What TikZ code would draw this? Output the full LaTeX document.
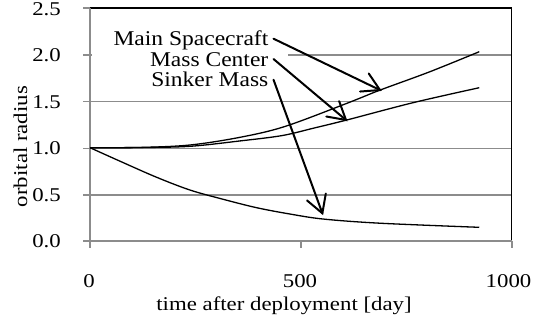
\documentclass[tikz,border=0pt]{standalone}
\usepackage{fontspec}
\setmainfont{Liberation Serif}[FakeStretch=1.17]
\newfontfamily\labfont{Liberation Serif}[FakeStretch=1.12]
\usetikzlibrary{calc}
\definecolor{gridgray}{gray}{0.55}
\begin{document}
\begin{tikzpicture}[x=1pt,y=-1pt,
  gridline/.style={draw=gridgray, line width=1.5pt},
  axisline/.style={draw=gridgray, line width=2pt},
  frameline/.style={draw=black, line width=1.5pt},
  curve/.style={black, line width=1.3pt},
  pointer/.style={black, line width=2pt, line cap=round, line join=miter},
  ticklab/.style={font=\fontsize{19.5}{19.5}\selectfont, inner sep=0pt},
  serieslab/.style={font=\labfont\fontsize{21}{21}\selectfont, inner sep=0pt,
    anchor=base east, text height=14pt, text depth=4pt}]
\useasboundingbox (0,0) rectangle (537,322);
% grid lines with ticks
\foreach \yy in {55,101.7,148.3,195} \draw[gridline] (83,\yy) -- (511.7,\yy);
\draw[gridline] (83,8) -- (90,8);
% white box behind the series labels
\fill[white] (91.5,22) rectangle (288,95);
% frame
\draw[frameline] (90,8) -- (511.7,8) -- (511.7,240.7);
% axes
\draw[axisline] (83,240.7) -- (511.7,240.7);
\draw[axisline] (90,8) -- (90,247.5);
\draw[axisline] (301,240.7) -- (301,247.5);
\draw[axisline] (511.7,240.7) -- (511.7,247.5);
% data
\begin{scope}[shift={(90,240.7)}, x=0.4217pt, y=93pt]
  \draw[curve] plot[smooth, tension=0.55] coordinates {(0,1) (120,1.003) (237,1.029) (356,1.112) (462,1.228) (609,1.477) (688,1.62) (806,1.817) (923,2.032)};
  \draw[curve] plot[smooth, tension=0.55] coordinates {(0,1) (120,1.002) (237,1.015) (356,1.073) (455,1.13) (530,1.21) (609,1.298) (766,1.484) (923,1.645)};
  \draw[curve] plot[smooth, tension=0.55] coordinates {(0,1) (79,0.839) (158,0.682) (237,0.545) (316,0.445) (395,0.355) (474,0.287) (553,0.233) (688,0.188) (923,0.144)};
  \coordinate (tipmain) at (687.7,1.62);
  \coordinate (tipmass) at (607,1.298);
  \coordinate (tipsink) at (551,0.295);
\end{scope}
% series labels
\node[serieslab] (lmain) at (268.5,45.7) {Main Spacecraft};
\node[serieslab] (lmass) at (268.5,66) {Mass Center};
\node[serieslab] (lsink) at (268.5,86.7) {Sinker Mass};
\coordinate (smain) at ([shift={(5,-2)}]lmain.east);
\coordinate (smass) at ([shift={(5,-2)}]lmass.east);
\coordinate (ssink) at ([shift={(5,-2)}]lsink.east);
\draw[pointer] (smain) -- (tipmain);
\draw[pointer] (smass) -- (tipmass);
\draw[pointer] (ssink) -- (tipsink);
\draw[pointer] ($(tipmain)!20pt!30:(smain)$) -- (tipmain) -- ($(tipmain)!20pt!330:(smain)$);
\draw[pointer] ($(tipmass)!20pt!30:(smass)$) -- (tipmass) -- ($(tipmass)!20pt!330:(smass)$);
\draw[pointer] ($(tipsink)!20pt!30:(ssink)$) -- (tipsink) -- ($(tipsink)!20pt!330:(ssink)$);
% y tick labels
\node[ticklab, anchor=east] (y25) at (61,9.5) {2.5};
\node[ticklab, anchor=east] (y20) at (61,55) {2.0};
\node[ticklab, anchor=east] (y15) at (61,101.7) {1.5};
\node[ticklab, anchor=east] (y10) at (61,148.3) {1.0};
\node[ticklab, anchor=east] (y05) at (61,195) {0.5};
\node[ticklab, anchor=east] (y00) at (61,240.7) {0.0};
% x tick labels
\node[ticklab, anchor=base] (x0) at (89,287.5) {0};
\node[ticklab, anchor=base] (x500) at (300,287.5) {500};
\node[ticklab, anchor=base] (x1000) at (508.5,287.5) {1000};
% axis titles
\node[ticklab, anchor=base] (xtitle) at (284,310) {time after deployment [day]};
\node[ticklab, anchor=base, rotate=90] (ytitle) at (27,146.5) {orbital radius};
\end{tikzpicture}
\end{document}
